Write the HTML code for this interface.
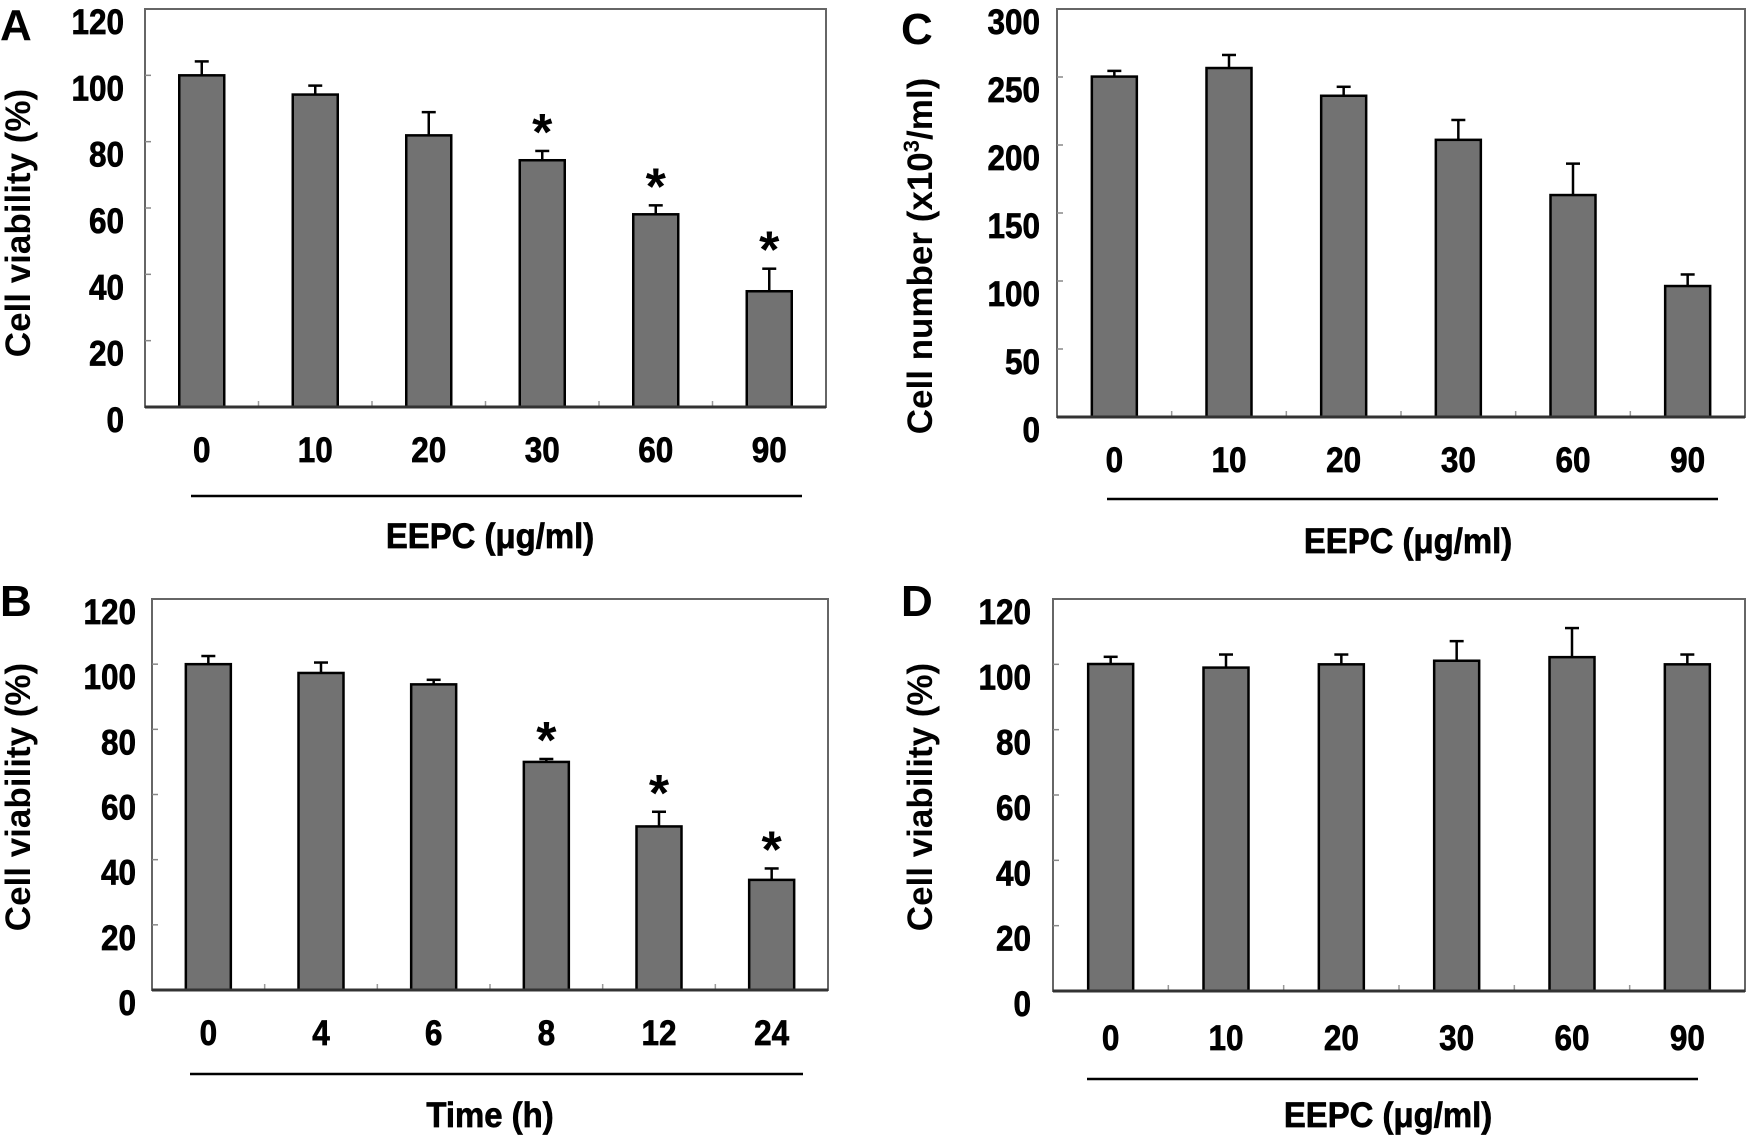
<!DOCTYPE html>
<html><head><meta charset="utf-8"><style>
html,body{margin:0;padding:0;background:#fff;}
svg{display:block;}
text{font-family:"Liberation Sans",Arial,sans-serif;font-weight:bold;fill:#000;}
.heavy{stroke:#000;stroke-width:0.7px;}
</style></head><body>
<svg id="fig" width="1748" height="1138" viewBox="0 0 1748 1138" xmlns="http://www.w3.org/2000/svg"></svg>
<script>
// Panel A data
const catsA = ["0","10","20","30","60","90"];
const valsA = [100, 94.2, 81.9, 74.4, 58.1, 34.9];
const errA  = [104.2, 96.9, 88.9, 77.2, 60.8, 41.7];
const starA = [0,0,0,1,1,1];
const ticksA = [0,20,40,60,80,100,120];
// Panel B data
const catsB = ["0","4","6","8","12","24"];
const valsB = [100, 97.3, 93.8, 70.0, 50.2, 33.8];
const errB  = [102.5, 100.5, 95.2, 70.9, 54.7, 37.3];
const starB = [0,0,0,1,1,1];
const ticksB = [0,20,40,60,80,100,120];
// Panel C data
const catsC = ["0","10","20","30","60","90"];
const valsC = [250.3, 256.6, 236.2, 203.8, 163.2, 96.3];
const errC  = [254.5, 266.2, 242.8, 218.4, 186.3, 104.8];
const starC = [0,0,0,0,0,0];
const ticksC = [0,50,100,150,200,250,300];
// Panel D data
const catsD = ["0","10","20","30","60","90"];
const valsD = [100.1, 99.0, 100, 101.1, 102.2, 100];
const errD  = [102.3, 103, 103, 107.1, 111.1, 103];
const starD = [0,0,0,0,0,0];
const ticksD = [0,20,40,60,80,100,120];

const NS="http://www.w3.org/2000/svg";
const svg=document.getElementById('fig');
function mk(tag,attrs,parent){const e=document.createElementNS(NS,tag);for(const k in attrs)e.setAttribute(k,attrs[k]);(parent||svg).appendChild(e);return e;}
function txt(str,x,y,size,anchor,sx,parent,cls){
  const t=mk('text',{x:0,y:0,'font-size':size,'text-anchor':anchor,transform:`translate(${x},${y}) scale(${sx},1)`},parent);
  if(cls)t.setAttribute('class',cls);
  t.textContent=str;return t;
}

function panel(p){
  const g=mk('g',{});
  
  
  const L=p.L,R=p.R,T=p.T,B=p.B;
  const ymax=p.ticks[p.ticks.length-1];
  const yS=v=>B-(v/ymax)*(B-T);
  const n=p.cats.length, step=(R-L)/n;
  const xC=i=>L+step*(i+0.5);
  const fr=mk('rect',{x:L,y:T,width:R-L,height:B-T,fill:'none',stroke:'#666','stroke-width':2},g);
  
  
  p.ticks.forEach(v=>{
    const y=yS(v);
    if(v>0&&v<ymax){const tk=mk('line',{x1:L,x2:L+6,y1:y,y2:y,stroke:'#888','stroke-width':1.5},g);
      
      }
    const t=txt(String(v),p.ylx,y+25,35,'end',0.9,g,'heavy');
    
    
  });
  for(let i=1;i<n;i++){const x=L+step*i;
    const tk=mk('line',{x1:x,x2:x,y1:B,y2:B-6,stroke:'#999','stroke-width':1.5},g);
    
    }
  p.vals.forEach((v,i)=>{
    const x=xC(i), w=45;
    const eb=mk('line',{x1:x,x2:x,y1:yS(p.err[i]),y2:yS(v),stroke:'#000','stroke-width':2.5},g);
    
    
    const cap=mk('line',{x1:x-7,x2:x+7,y1:yS(p.err[i]),y2:yS(p.err[i]),stroke:'#000','stroke-width':2.5},g);
    
    
    const r=mk('rect',{x:x-w/2,y:yS(v),width:w,height:B-yS(v),fill:'#727272',stroke:'#000','stroke-width':2.5},g);
    
    
    if(p.star[i]){
      const s=mk('text',{x:x,y:yS(p.err[i])-31+30,'font-size':52,'text-anchor':'middle','font-weight':'normal'},g);
      s.textContent='*';
      
      
    }
    const xl=txt(p.cats[i],x,p.xly,35,'middle',0.9,g,'heavy');
    
    
  });
  const ax=mk('line',{x1:L,x2:R,y1:B,y2:B,stroke:'#333',"stroke-width":3},g);
  
  
  const ul=mk('line',{x1:p.ul[0],x2:p.ul[1],y1:p.ul[2],y2:p.ul[2],stroke:'#000','stroke-width':2.5},g);
  
  
  const xt=txt(p.xtitle,p.xt[0],p.xt[1],35,'middle',0.94,g,'heavy');
  
  
  const yt=mk('text',{x:0,y:0,'font-size':p.ytSize,'text-anchor':'middle',transform:`translate(${p.yt[0]},${p.yt[1]}) rotate(-90)`},g);
  
  
  if(p.sup){
    yt.appendChild(document.createTextNode('Cell number (x10'));
    const ts=document.createElementNS(NS,'tspan');ts.setAttribute('font-size',22);ts.setAttribute('dy',-13);ts.textContent='3';yt.appendChild(ts);
    const ts2=document.createElementNS(NS,'tspan');ts2.setAttribute('dy',13);ts2.textContent='/ml)';yt.appendChild(ts2);
  } else yt.textContent=p.ytitle;
  const lb=txt(p.id,p.lab[0],p.lab[1],44,'start',1,g);
  
  
}

panel({id:'A',cats:catsA,vals:valsA,err:errA,star:starA,ticks:ticksA,L:145,R:826,T:9,B:407,ylx:124,xly:462,
  ul:[191,802,496],xtitle:'EEPC (\u03bcg/ml)',xt:[490,548],ytitle:'Cell viability (%)',yt:[30,223],ytSize:35,lab:[0,40]});
panel({id:'B',cats:catsB,vals:valsB,err:errB,star:starB,ticks:ticksB,L:152,R:828,T:599,B:990,ylx:136,xly:1045,
  ul:[190,803,1074],xtitle:'Time (h)',xt:[490,1127],ytitle:'Cell viability (%)',yt:[30,797],ytSize:35,lab:[0,616]});
panel({id:'C',cats:catsC,vals:valsC,err:errC,star:starC,ticks:ticksC,L:1057,R:1745,T:9,B:417,ylx:1040,xly:472,
  ul:[1107,1718,499],xtitle:'EEPC (\u03bcg/ml)',xt:[1408,553],sup:true,yt:[932,256],ytSize:35,lab:[901,44]});
panel({id:'D',cats:catsD,vals:valsD,err:errD,star:starD,ticks:ticksD,L:1053,R:1745,T:599,B:991,ylx:1031,xly:1050,
  ul:[1087,1698,1079],xtitle:'EEPC (\u03bcg/ml)',xt:[1388,1127],ytitle:'Cell viability (%)',yt:[932,797],ytSize:35,lab:[901,616]});
</script>
</body></html>
